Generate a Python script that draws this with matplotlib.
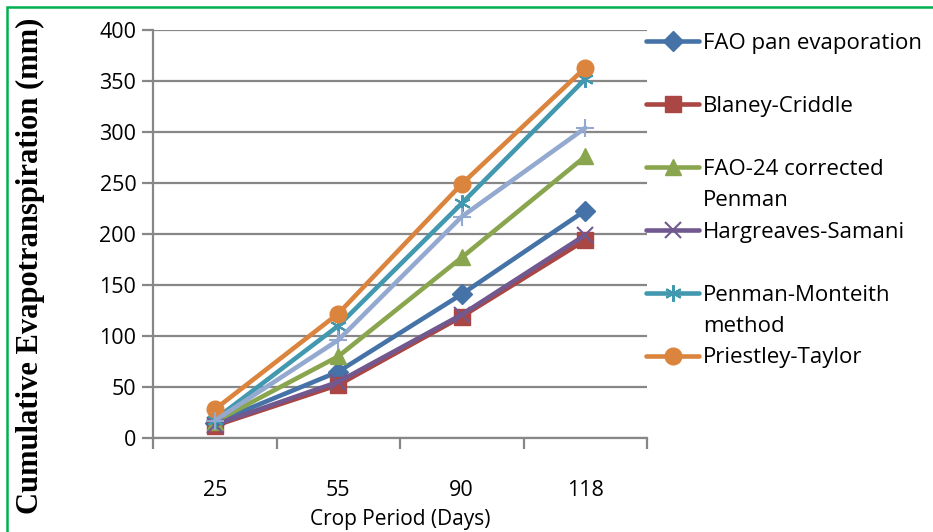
import matplotlib.pyplot as plt
from matplotlib.lines import Line2D
from matplotlib.patches import Rectangle
import numpy as np

days = ["25", "55", "90", "118"]

fao_pan = [15, 65, 141, 223]
blaney = [12, 52, 119, 194]
fao24 = [16, 80, 177, 276]
hargreaves = [13, 55, 121, 199]
penman_mont = [18, 110, 230, 352]
priestley = [28, 122, 249, 363]
extra = [17, 96, 217, 304]  # light blue "+" series, not in the legend

series = [
    ("FAO pan evaporation", fao_pan, "#4572A7", "D", 10),
    ("Blaney-Criddle", blaney, "#AA4643", "s", 11),
    ("FAO-24 corrected\nPenman", fao24, "#89A54E", "^", 12),
    ("Hargreaves-Samani", hargreaves, "#71588F", "x", 11),
    ("Penman-Monteith\nmethod", penman_mont, "#4198AF", (6, 2, 0), 12),
    ("Priestley-Taylor", priestley, "#DB843D", "o", 12),
    (None, extra, "#93A9CF", "+", 13),
]

fig = plt.figure(figsize=(9.33, 5.32), dpi=100)
ax = fig.add_axes([153 / 933, 1 - 438 / 532, (647 - 153) / 933, 408 / 532])

x = np.arange(len(days))
lines = {}
for name, vals, col, mk, ms in series:
    thin = mk in ("x", "+") or isinstance(mk, tuple)
    (ln,) = ax.plot(x, vals, color=col, lw=3.3, marker=mk, ms=ms,
                    mfc=col, mec=col, mew=1.5 if thin else 1,
                    solid_capstyle="round", zorder=3)
    lines[name] = ln

ax.set_xlim(-0.5, len(days) - 0.5)
ax.set_ylim(0, 400)
ax.set_yticks(np.arange(0, 401, 50))
ax.grid(axis="y", color="#878787", lw=1.6)
ax.set_axisbelow(True)

ax.set_xticks(np.arange(-0.5, len(days)), labels=[""] * (len(days) + 1))
ax.set_xticks(x, labels=days, minor=True)
ax.tick_params(axis="x", which="major", length=8, width=1.6, color="#878787", direction="out")
ax.tick_params(axis="x", which="minor", length=0, pad=30, labelsize=15.5)
ax.tick_params(axis="y", length=8, width=1.6, color="#878787", labelsize=15.5, pad=4)

for s in ("top", "right"):
    ax.spines[s].set_visible(False)
for s in ("left", "bottom"):
    ax.spines[s].set_color("#878787")
    ax.spines[s].set_linewidth(1.6)

for lab in ax.get_xticklabels(minor=True) + ax.get_yticklabels():
    lab.set_fontfamily("Open Sans")

ax.set_xlabel("Crop Period (Days)", fontsize=15, fontfamily="Open Sans", labelpad=6)
fig.text(30 / 933, 0.5, "Cumulative Evapotranspiration (mm)", rotation=90,
         ha="center", va="center", fontsize=22, fontweight="bold",
         fontfamily="Liberation Serif")

# legend rows: continuation lines and gaps get blank handles
blank = Line2D([], [], color="none")
handles, labels = [], []
for i, (name, vals, col, mk, ms) in enumerate(series[:6]):
    parts = name.split("\n")
    handles.append(lines[name])
    labels.append(parts[0])
    if len(parts) > 1:
        handles.append(blank)
        labels.append(parts[1])
    elif i < 5:
        handles.append(blank)
        labels.append("")

leg = fig.legend(handles, labels, loc="upper left", bbox_to_anchor=(646 / 933, 1 - 33 / 532),
                 frameon=False, numpoints=1, handlelength=2.4, handletextpad=0.18,
                 labelspacing=0.47, borderpad=0, borderaxespad=0,
                 prop={"family": "Open Sans", "size": 16})

fig.patches.append(Rectangle((7 / 933, -0.1), 1.2, 1 - 7 / 532 + 0.1, transform=fig.transFigure,
                             fill=False, ec="#00B050", lw=1.8))

fig.savefig("out.png", dpi=100)
